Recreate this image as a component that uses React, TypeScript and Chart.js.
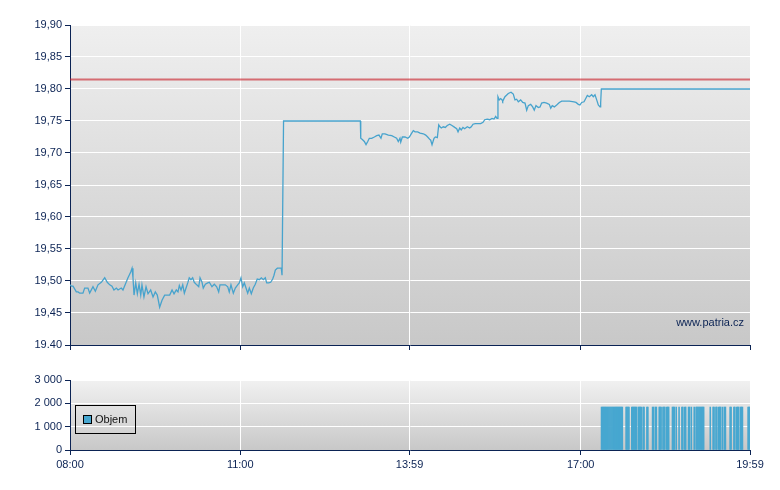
import React, { useEffect, useRef } from 'react';
import { Chart, registerables } from 'chart.js';

Chart.register(...registerables);

const FONT = '"Liberation Sans", Arial, sans-serif';
const NAVY = '#0b2354';
const LINE_COLOR = '#47a3cd';
const BAR_COLOR = '#47a7d0';

// x axis: minutes after 08:00
const X_MIN = 0;
const X_MAX = 719;
const X_TICK_MINUTES = [0, 180, 359, 540, 719];
const X_TICK_LABELS = ['08:00', '11:00', '13:59', '17:00', '19:59'];

const PRICE_TICKS = [19.4, 19.45, 19.5, 19.55, 19.6, 19.65, 19.7, 19.75, 19.8, 19.85, 19.9];
const PRICE_TICK_LABELS = ['19.40', '19,45', '19,50', '19,55', '19,60', '19,65', '19,70', '19,75', '19,80', '19,85', '19,90'];
const VOLUME_TICKS = [0, 1000, 2000, 3000];
const VOLUME_TICK_LABELS = ['0', '1 000', '2 000', '3 000'];

const REFERENCE_PRICE = 19.815;

const PRICE_TIMES = [
  0, 1.4, 3.2, 6.7, 8.5, 10.3, 13.7, 15.5, 19.0, 20.8, 24.3, 26.8, 29.6, 33.1, 36.7, 39.4, 42.0, 44.4, 46.5, 49.0,
  50.8, 54.2, 56.0, 58.5, 61.3, 64.2, 65.6, 66.6, 67.7, 69.5, 71.2, 73.0, 74.8, 76.1, 78.2, 80.4, 82.5, 85.3, 87.8, 90.2,
  92.3, 94.8, 97.3, 100.1, 102.9, 105.4, 107.9, 110.0, 112.4, 114.2, 115.6, 117.4, 119.2, 120.9, 122.7, 124.5, 126.1, 127.9, 129.7, 131.4,
  134.0, 136.1, 137.5, 139.6, 140.9, 143.1, 145.6, 147.3, 150.1, 152.6, 155.1, 157.2, 158.6, 161.5, 164.2, 166.8, 168.4, 170.2, 172.7, 174.8,
  177.3, 179.0, 180.8, 182.6, 184.3, 186.1, 187.9, 189.6, 191.7, 193.8, 195.9, 198.0, 200.2, 202.3, 204.4, 206.5, 208.0, 210.1, 212.2, 214.3,
  215.7, 217.1, 219.2, 221.3, 223.4, 224.2, 225.8, 307.0,
  307.4, 309.1, 311.2, 313.0, 314.8, 316.5, 319.0, 321.8, 324.3, 326.7, 328.8, 330.2, 333.1, 336.6, 340.2, 342.9, 345.4, 347.1, 348.9, 349.7,
  351.4, 354.2, 357.1, 358.8, 361.3, 363.0, 364.8, 367.6, 370.1, 373.6, 376.1, 378.2, 380.6, 381.4, 382.8, 384.9, 386.3, 388.4, 389.9, 391.2,
  392.6, 394.7, 396.8, 398.9, 401.5, 403.9, 406.8, 408.9, 410.3, 412.1, 413.7, 415.5, 417.3, 420.1, 422.6, 424.3, 426.1, 428.5, 431.4, 434.3,
  436.7, 438.5, 441.2, 443.8, 446.2, 448.3, 450.1, 451.5, 452.5, 453.9, 455.4, 456.8, 457.5, 459.9, 463.4, 466.3, 468.7, 470.5, 472.3, 474.0,
  476.5, 478.7, 481.1, 482.9, 484.6, 487.1, 489.2, 490.9, 492.7, 495.2, 497.0, 498.7, 501.2, 504.0, 506.8, 508.3, 509.9, 512.1, 514.6, 517.4,
  519.9, 522.3, 527.9, 532.9, 535.0, 537.5, 539.2, 541.0, 543.5, 545.6, 547.0, 549.1, 551.6, 553.3, 555.1, 556.9, 558.6, 560.4, 561.1, 561.8,
  719,
];

const PRICE_VALUES = [
  19.494, 19.492, 19.492, 19.483, 19.483, 19.481, 19.481, 19.489, 19.489, 19.481, 19.491, 19.484, 19.494, 19.498, 19.505, 19.498, 19.494, 19.492, 19.486, 19.489,
  19.486, 19.489, 19.486, 19.495, 19.505, 19.514, 19.52, 19.505, 19.478, 19.497, 19.48, 19.495, 19.478, 19.494, 19.475, 19.491, 19.48, 19.486, 19.475, 19.483,
  19.478, 19.459, 19.47, 19.478, 19.478, 19.478, 19.486, 19.48, 19.486, 19.483, 19.493, 19.486, 19.494, 19.481, 19.489, 19.497, 19.505, 19.502, 19.505, 19.498,
  19.494, 19.491, 19.505, 19.498, 19.489, 19.495, 19.497, 19.498, 19.491, 19.495, 19.491, 19.483, 19.494, 19.494, 19.494, 19.491, 19.483, 19.494, 19.481, 19.489,
  19.494, 19.497, 19.505, 19.491, 19.497, 19.489, 19.481, 19.489, 19.48, 19.489, 19.495, 19.503, 19.502, 19.505, 19.502, 19.505, 19.497, 19.497, 19.498, 19.503,
  19.509, 19.517, 19.52, 19.52, 19.52, 19.509, 19.75, 19.75,
  19.723, 19.721, 19.718, 19.713, 19.718, 19.723, 19.723, 19.725, 19.727, 19.728, 19.723, 19.73, 19.73, 19.728, 19.727, 19.725, 19.723, 19.718, 19.723, 19.717,
  19.725, 19.725, 19.723, 19.725, 19.731, 19.735, 19.733, 19.733, 19.731, 19.73, 19.728, 19.725, 19.721, 19.72, 19.713, 19.723, 19.725, 19.724, 19.744, 19.741,
  19.739, 19.741, 19.74, 19.743, 19.745, 19.743, 19.74, 19.738, 19.733, 19.739, 19.736, 19.74, 19.738, 19.741, 19.739, 19.741, 19.745, 19.746, 19.746, 19.746,
  19.748, 19.752, 19.753, 19.752, 19.754, 19.753, 19.757, 19.754, 19.788, 19.783, 19.785, 19.783, 19.781, 19.788, 19.793, 19.795, 19.792, 19.783, 19.784, 19.78,
  19.783, 19.779, 19.778, 19.767, 19.774, 19.776, 19.772, 19.767, 19.774, 19.771, 19.772, 19.778, 19.779, 19.778, 19.776, 19.77, 19.774, 19.772, 19.775, 19.779,
  19.781, 19.781, 19.781, 19.78, 19.779, 19.776, 19.775, 19.779, 19.78, 19.786, 19.79, 19.788, 19.791, 19.788, 19.791, 19.783, 19.775, 19.772, 19.778, 19.8,
  19.8,
];

// minutes (after 08:00) in which trades took place, and the volume traded
const VOLUME_MINUTES = [
  562, 563, 564, 565, 566, 567, 568, 569, 570, 571, 572, 573, 574, 575, 576, 577, 578, 579, 580, 581, 582, 583, 584,
  588, 589, 590, 591, 594, 595, 596, 597, 598, 599, 601, 602, 603, 604, 606, 607, 610, 611, 616, 617, 619, 620,
  623, 624, 625, 627, 628, 629, 631, 632, 633, 637, 638, 639, 641, 644, 647, 648, 650, 651, 654, 655, 657, 660,
  662, 663, 664, 665, 666, 667, 668, 669, 670, 677, 680, 681, 683, 684, 686, 687, 688, 690, 692, 693,
  698, 699, 702, 703, 705, 706, 707, 709, 710, 711, 717, 718, 719,
];
const VOLUME_PER_MINUTE = 1840;

const bgPlugin = (top: string, bottom: string) => ({
  id: 'areaGradient',
  beforeDraw(chart: any) {
    const { ctx, chartArea: a } = chart;
    const g = ctx.createLinearGradient(0, a.top, 0, a.bottom);
    g.addColorStop(0, top);
    g.addColorStop(1, bottom);
    ctx.save();
    ctx.fillStyle = g;
    ctx.fillRect(a.left, a.top, a.right - a.left, a.bottom - a.top);
    ctx.restore();
  },
});

const watermarkPlugin = {
  id: 'watermark',
  afterDraw(chart: any) {
    const { ctx, chartArea: a } = chart;
    ctx.save();
    ctx.font = `11px ${FONT}`;
    ctx.fillStyle = NAVY;
    ctx.textAlign = 'right';
    ctx.textBaseline = 'middle';
    ctx.fillText('www.patria.cz', a.right - 6, a.bottom - 22);
    ctx.restore();
  },
};

const legendPlugin = {
  id: 'boxLegend',
  afterDraw(chart: any) {
    const { ctx, chartArea: a } = chart;
    const x = Math.round(a.left) + 5;
    const y = Math.round(a.top) + 25;
    ctx.save();
    ctx.strokeStyle = '#000';
    ctx.lineWidth = 1;
    ctx.strokeRect(x + 0.5, y + 0.5, 60, 28);
    ctx.fillStyle = BAR_COLOR;
    ctx.fillRect(x + 8.5, y + 10.5, 8, 8);
    ctx.strokeRect(x + 8.5, y + 10.5, 8, 8);
    ctx.font = `11px ${FONT}`;
    ctx.fillStyle = '#111';
    ctx.textAlign = 'left';
    ctx.textBaseline = 'middle';
    ctx.fillText('Objem', x + 20, y + 15);
    ctx.restore();
  },
};

const xAxis = (showLabels: boolean, height: number) => ({
  type: 'linear' as const,
  min: X_MIN,
  max: X_MAX,
  offset: false,
  afterBuildTicks: (s: any) => {
    s.ticks = X_TICK_MINUTES.map((v) => ({ value: v }));
  },
  afterFit: (s: any) => {
    s.height = height;
  },
  ticks: {
    display: showLabels,
    autoSkip: false,
    maxRotation: 0,
    padding: 3,
    color: NAVY,
    font: { family: FONT, size: 11 },
    callback: (_v: any, i: number) => X_TICK_LABELS[i],
  },
  grid: { color: '#ffffff', lineWidth: 1, tickColor: NAVY, tickLength: 5, offset: false },
  border: { color: NAVY, width: 1 },
});

const yAxis = (min: number, max: number, ticks: number[], labels: string[]) => ({
  min,
  max,
  afterBuildTicks: (s: any) => {
    s.ticks = ticks.map((v) => ({ value: v }));
  },
  afterFit: (s: any) => {
    s.width = 70;
  },
  ticks: {
    autoSkip: false,
    padding: 3,
    color: NAVY,
    font: { family: FONT, size: 11 },
    callback: (_v: any, i: number) => labels[i],
  },
  grid: { color: '#ffffff', lineWidth: 1, tickColor: NAVY, tickLength: 5 },
  border: { color: NAVY, width: 1 },
});

export default function App() {
  const priceRef = useRef<HTMLCanvasElement | null>(null);
  const volRef = useRef<HTMLCanvasElement | null>(null);

  useEffect(() => {
    const priceData = PRICE_TIMES.map((t, i) => ({ x: t, y: PRICE_VALUES[i] }));
    const priceChart = new Chart(priceRef.current as HTMLCanvasElement, {
      type: 'line',
      data: {
        datasets: [
          {
            label: 'Reference',
            data: [
              { x: X_MIN, y: REFERENCE_PRICE },
              { x: X_MAX, y: REFERENCE_PRICE },
            ],
            borderColor: 'rgba(200,25,35,0.6)',
            borderWidth: 2,
            pointRadius: 0,
          },
          {
            label: 'Cena',
            data: priceData,
            borderColor: LINE_COLOR,
            borderWidth: 1.3,
            pointRadius: 0,
            tension: 0,
          },
        ],
      },
      options: {
        responsive: false,
        animation: false,
        devicePixelRatio: 1,
        parsing: true,
        layout: { padding: { top: 25, right: 30, left: 0, bottom: 0 } },
        plugins: { legend: { display: false }, tooltip: { enabled: false } },
        scales: {
          x: xAxis(false, 15) as any,
          y: yAxis(19.4, 19.9, PRICE_TICKS, PRICE_TICK_LABELS) as any,
        },
      },
      plugins: [bgPlugin('#efefef', '#c8c8c8'), watermarkPlugin],
    });

    const volData = VOLUME_MINUTES.map((m) => ({ x: m, y: VOLUME_PER_MINUTE }));
    const volChart = new Chart(volRef.current as HTMLCanvasElement, {
      type: 'bar',
      data: {
        datasets: [
          {
            label: 'Objem',
            data: volData,
            backgroundColor: BAR_COLOR,
            borderWidth: 0,
            barPercentage: 1,
            categoryPercentage: 1,
          },
        ],
      },
      options: {
        responsive: false,
        animation: false,
        devicePixelRatio: 1,
        layout: { padding: { top: 20, right: 30, left: 0, bottom: 0 } },
        plugins: { legend: { display: false }, tooltip: { enabled: false } },
        scales: {
          x: xAxis(true, 40) as any,
          y: yAxis(0, 3000, VOLUME_TICKS, VOLUME_TICK_LABELS) as any,
        },
      },
      plugins: [bgPlugin('#f1f1f1', '#c8c8c8'), legendPlugin],
    });

    return () => {
      priceChart.destroy();
      volChart.destroy();
    };
  }, []);

  return (
    <div style={{ position: 'fixed', left: 0, top: 0, width: 780, height: 490, background: '#fff' }}>
      <canvas
        ref={priceRef}
        width={780}
        height={360}
        style={{ position: 'absolute', left: 0, top: 0, width: 780, height: 360 }}
      />
      <canvas
        ref={volRef}
        width={780}
        height={130}
        style={{ position: 'absolute', left: 0, top: 360, width: 780, height: 130 }}
      />
    </div>
  );
}
